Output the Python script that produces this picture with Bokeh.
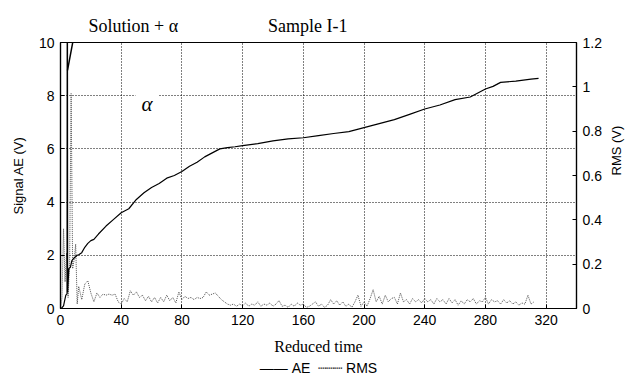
import math
from bokeh.plotting import figure
from bokeh.models import (Range1d, LinearAxis, FixedTicker, Label, Arrow, Title)
from bokeh.embed import file_html
from bokeh.resources import INLINE

# ---------------- data ----------------
x_ticks = [0, 40, 80, 120, 160, 200, 240, 280, 320]
y_ticks = [0, 2, 4, 6, 8, 10]
rms_ticks = [0, 0.2, 0.4, 0.6, 0.8, 1.0, 1.2]
rms_tick_labels = {0: "0", 0.2: "0.2", 0.4: "0.4", 0.6: "0.6", 0.8: "0.8", 1.0: "1", 1.2: "1.2"}

ae_t = [0.5, 2, 3.5, 4.3, 4.4, 4.6, 4.7, 5.5, 6.5, 7.5, 9, 11, 12, 14, 16, 18, 20, 22, 25,
        30, 35, 40, 45, 50, 55, 60, 65, 70, 75, 80, 85, 90, 95, 100, 105, 110, 115, 120,
        130, 140, 150, 160, 170, 180, 190, 200, 210, 220, 230, 240, 250, 260, 270, 280,
        285, 290, 300, 310, 315]
ae_v = [0, 0.1, 0.5, 0.55, 10, 10, 0.6, 1.5, 1.55, 1.8, 1.9, 2.0, 2.02, 2.1, 2.3, 2.45, 2.55, 2.6, 2.8,
        3.1, 3.35, 3.6, 3.75, 4.1, 4.35, 4.55, 4.7, 4.9, 5.0, 5.15, 5.35, 5.5, 5.7, 5.85, 6.0, 6.05, 6.08, 6.12,
        6.2, 6.3, 6.38, 6.42, 6.5, 6.58, 6.65, 6.8, 6.95, 7.1, 7.3, 7.5, 7.65, 7.85, 7.95, 8.25,
        8.35, 8.5, 8.55, 8.62, 8.65]

rms_t = [0, 1, 2, 3, 4, 5, 6, 7, 8, 9, 10, 11, 12] + list(range(14, 314, 2))
rms_v = [0, 0.05, 0.36, 0.12, 0.25, 0.05, 0.2, 0.97, 0.18, 0.22, 0.29, 0.02, 0.1,
         0.04, 0.11, 0.125, 0.07, 0.03, 0.07, 0.05, 0.065, 0.06, 0.065,
         0.06, 0.065, 0.03, 0.02, 0.045, 0.03, 0.08, 0.06, 0.075, 0.05,
         0.06, 0.035, 0.055, 0.03, 0.05, 0.025, 0.05, 0.03, 0.06, 0.035,
         0.05, 0.025, 0.075, 0.04, 0.055, 0.045, 0.05, 0.04, 0.05, 0.045,
         0.05, 0.075, 0.06, 0.065, 0.07, 0.055, 0.04, 0.03, 0.02, 0.015,
         0.02, 0.01, 0.02, 0.012, 0.025, 0.01, 0.02, 0.015, 0.03, 0.01,
         0.02, 0.015, 0.025, 0.01, 0.02, 0.036, 0.01, 0.015, 0.005, 0.02,
         0.01, 0.025, 0.015, 0.02, 0.005, 0.01, 0.02, 0.03, 0.01, 0.02,
         0.005, 0.015, 0.04, 0.02, 0.035, 0.015, 0.03, 0.01, 0.02, 0.005,
         0.03, 0.06, 0.01, 0.03, 0.01, 0.045, 0.085, 0.03, 0.055, 0.02,
         0.06, 0.03, 0.045, 0.05, 0.02, 0.07, 0.03, 0.04, 0.02, 0.045,
         0.03, 0.04, 0.025, 0.045, 0.03, 0.04, 0.02, 0.045, 0.03, 0.04,
         0.02, 0.045, 0.025, 0.04, 0.015, 0.035, 0.02, 0.04, 0.03, 0.045,
         0.02, 0.035, 0.03, 0.05, 0.02, 0.04, 0.03, 0.035, 0.02, 0.04,
         0.025, 0.035, 0.02, 0.03, 0.015, 0.025, 0.02, 0.06, 0.02, 0.03]

title_left = "Solution + α"
title_right = "Sample I-1"
legend_labels = ["AE", "RMS"]

# ---------------- figure ----------------
SANS = "Liberation Sans"
SERIF = "Liberation Serif"

p = figure(width=640, height=376, output_backend="svg", toolbar_location=None,
           x_range=Range1d(0, 340), y_range=Range1d(0, 10),
           min_border_left=60, min_border_right=64, min_border_top=42, min_border_bottom=68)
p.extra_y_ranges = {"rms": Range1d(0, 1.2)}

p.outline_line_color = "black"
p.outline_line_width = 1.2
p.background_fill_color = "white"
p.border_fill_color = "white"

for g in (p.xgrid[0], p.ygrid[0]):
    g.grid_line_color = "black"
    g.grid_line_dash = "1 2"
    g.grid_line_width = 1
    g.grid_line_alpha = 1.0
p.xgrid[0].ticker = FixedTicker(ticks=x_ticks)
p.ygrid[0].ticker = FixedTicker(ticks=y_ticks)

xa = p.xaxis[0]
xa.ticker = FixedTicker(ticks=x_ticks)
xa.axis_label = "Reduced time"
xa.axis_label_text_font = SERIF
xa.axis_label_text_font_style = "normal"
xa.axis_label_text_font_size = "16px"
xa.axis_label_standoff = 10

ya = p.yaxis[0]
ya.ticker = FixedTicker(ticks=y_ticks)
ya.axis_label = "Signal AE (V)"
ya.axis_label_text_font = SANS
ya.axis_label_text_font_style = "normal"
ya.axis_label_text_font_size = "13px"
ya.axis_label_standoff = 10

ra = LinearAxis(y_range_name="rms", ticker=FixedTicker(ticks=rms_ticks),
                major_label_overrides=rms_tick_labels, axis_label="RMS (V)")
ra.axis_label_text_font = SANS
ra.axis_label_text_font_style = "normal"
ra.axis_label_text_font_size = "13px"
ra.axis_label_standoff = 12
if "axis_label_orientation" in ra.properties():
    ra.axis_label_orientation = math.pi / 2
p.add_layout(ra, "right")

for ax in (xa, ya, ra):
    ax.axis_line_color = "black"
    ax.axis_line_width = 1.2
    ax.major_tick_in = 4
    ax.major_tick_out = 0
    ax.minor_tick_line_color = None
    ax.major_tick_line_color = "black"
    ax.major_label_text_font = SANS
    ax.major_label_text_font_size = "14px"
    ax.major_label_text_color = "black"
    ax.major_label_standoff = 6
    ax.axis_label_text_color = "black"

# ---------------- series ----------------
r_rms = p.line(rms_t, rms_v, y_range_name="rms", line_color="#555555",
               line_width=1, line_dash="1 1")
r_ae = p.line(ae_t, ae_v, line_color="black", line_width=1.2)

# ---------------- annotations ----------------
p.add_layout(Arrow(end=None, x_start=4.6, y_start=8.95, x_end=9.9, y_end=10.56,
                   line_color="black", line_width=1.5))
p.add_layout(Label(x=57, y=7.7, text="α", text_font=SERIF, text_font_style="italic",
                   text_font_size="21px", text_baseline="middle", text_align="center",
                   text_color="black", background_fill_color="white",
                   padding=6))

gap = "\u00a0" * 20
p.add_layout(Title(text=title_left + gap + title_right, align="left", offset=28,
                   text_font=SERIF, text_font_style="normal", text_font_size="18px",
                   text_color="black", standoff=14), "above")

legend_text = "——\u00a0" + legend_labels[0] + "\u00a0\u00a0┈┈┈\u00a0" + legend_labels[1]
p.add_layout(Title(text=legend_text, align="center", offset=4,
                   text_font=SANS, text_font_style="normal", text_font_size="14px",
                   text_color="black", standoff=0), "below")

open("out.html", "w").write(file_html(p, INLINE))
